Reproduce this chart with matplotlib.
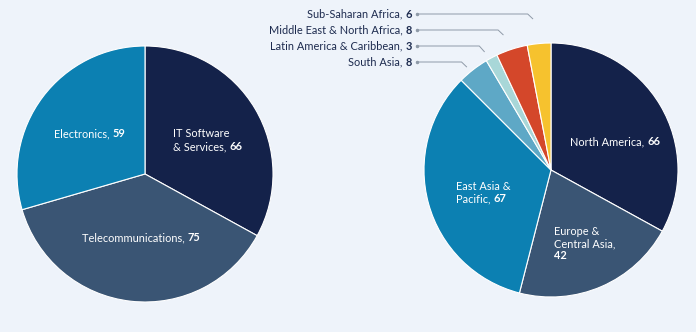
import numpy as np
import matplotlib
matplotlib.use('Agg')
import matplotlib.pyplot as plt

plt.rcParams['font.family'] = ['Lato', 'DejaVu Sans']

# sector pie
sectors = ['IT Software & Services', 'Telecommunications', 'Electronics']
sector_vals = [66, 75, 59]
sector_cols = ['#14224a', '#3a5574', '#0c80b2']

# region pie
regions = ['North America', 'Europe & Central Asia', 'East Asia & Pacific', 'South Asia',
           'Latin America & Caribbean', 'Middle East & North Africa', 'Sub-Saharan Africa']
region_vals = [66, 42, 67, 8, 3, 8, 6]
region_cols = ['#14224a', '#3a5574', '#0c80b2', '#5ea8c6', '#a8d7d8', '#d4472a', '#f6c22e']

W, H = 696, 332
bg = '#eef3fa'
ink = '#1d2b4f'
fs = 7.9


def py(y):
    return H - y


fig = plt.figure(figsize=(W / 100, H / 100), dpi=100, facecolor=bg)
ax = fig.add_axes([0, 0, 1, 1])
ax.set_facecolor(bg)

c1, r1 = (145, py(174)), 128
c2, r2 = (551, py(170)), 127

w1, _ = ax.pie(sector_vals, colors=sector_cols, startangle=90, counterclock=False,
               center=c1, radius=r1, wedgeprops=dict(edgecolor='white', linewidth=0.8))
w2, _ = ax.pie(region_vals, colors=region_cols, startangle=90, counterclock=False,
               center=c2, radius=r2, wedgeprops=dict(edgecolor='white', linewidth=0.8))


def label(x, y, txt, num, color='white', ha='left'):
    # regular text followed by bold number, same baseline
    if ha == 'left':
        t = ax.text(x, py(y), txt, color=color, fontsize=fs, va='baseline', ha='left')
        if num:
            ax.annotate(num, xy=(1, 0), xycoords=t, color=color, fontsize=fs,
                        fontweight='bold', va='bottom', ha='left')
    else:
        t = ax.text(x, py(y), num, color=color, fontsize=fs, va='baseline', ha='right',
                    fontweight='bold')
        ax.annotate(txt, xy=(0, 0), xycoords=t, color=color, fontsize=fs,
                    va='bottom', ha='right')


# left pie labels
label(54, 137, 'Electronics, ', str(sector_vals[2]))
label(173, 137, 'IT Software', '')
label(173, 150, '& Services, ', str(sector_vals[0]))
label(82, 241, 'Telecommunications, ', str(sector_vals[1]))

# right pie labels
label(570, 145, 'North America, ', str(region_vals[0]))
label(456, 190, 'East Asia &', '')
label(456, 202, 'Pacific, ', str(region_vals[2]))
label(554, 235, 'Europe &', '')
label(554, 247, 'Central Asia,', '')
ax.text(554, py(259), str(region_vals[1]), color='white', fontsize=fs,
        fontweight='bold', va='baseline')

# leader labels for small slices
rows = {6: 14, 5: 30, 4: 46, 3: 62}
reach = {6: 1.2, 5: 1.13, 4: 1.07, 3: 1.05}
total = sum(region_vals)
cum = np.cumsum([0] + region_vals)
for i, yrow in rows.items():
    mid = 90 - 360 * (cum[i] + region_vals[i] / 2) / total + 1.5
    ex = c2[0] + r2 * reach[i] * np.cos(np.radians(mid))
    ey = c2[1] + r2 * reach[i] * np.sin(np.radians(mid))
    elbow = ex - 5
    ax.plot([417, elbow, ex], [py(yrow), py(yrow), ey], color='#8f9aa8', lw=0.7)
    ax.plot([417], [py(yrow)], 'o', color='#8f9aa8', ms=1.5)
    label(412, yrow + 3.5, regions[i] + ', ', str(region_vals[i]), color=ink, ha='right')

ax.set_xlim(0, W)
ax.set_ylim(0, H)
ax.set_aspect('auto')
ax.axis('off')
fig.savefig('out.png', dpi=100, facecolor=bg)
